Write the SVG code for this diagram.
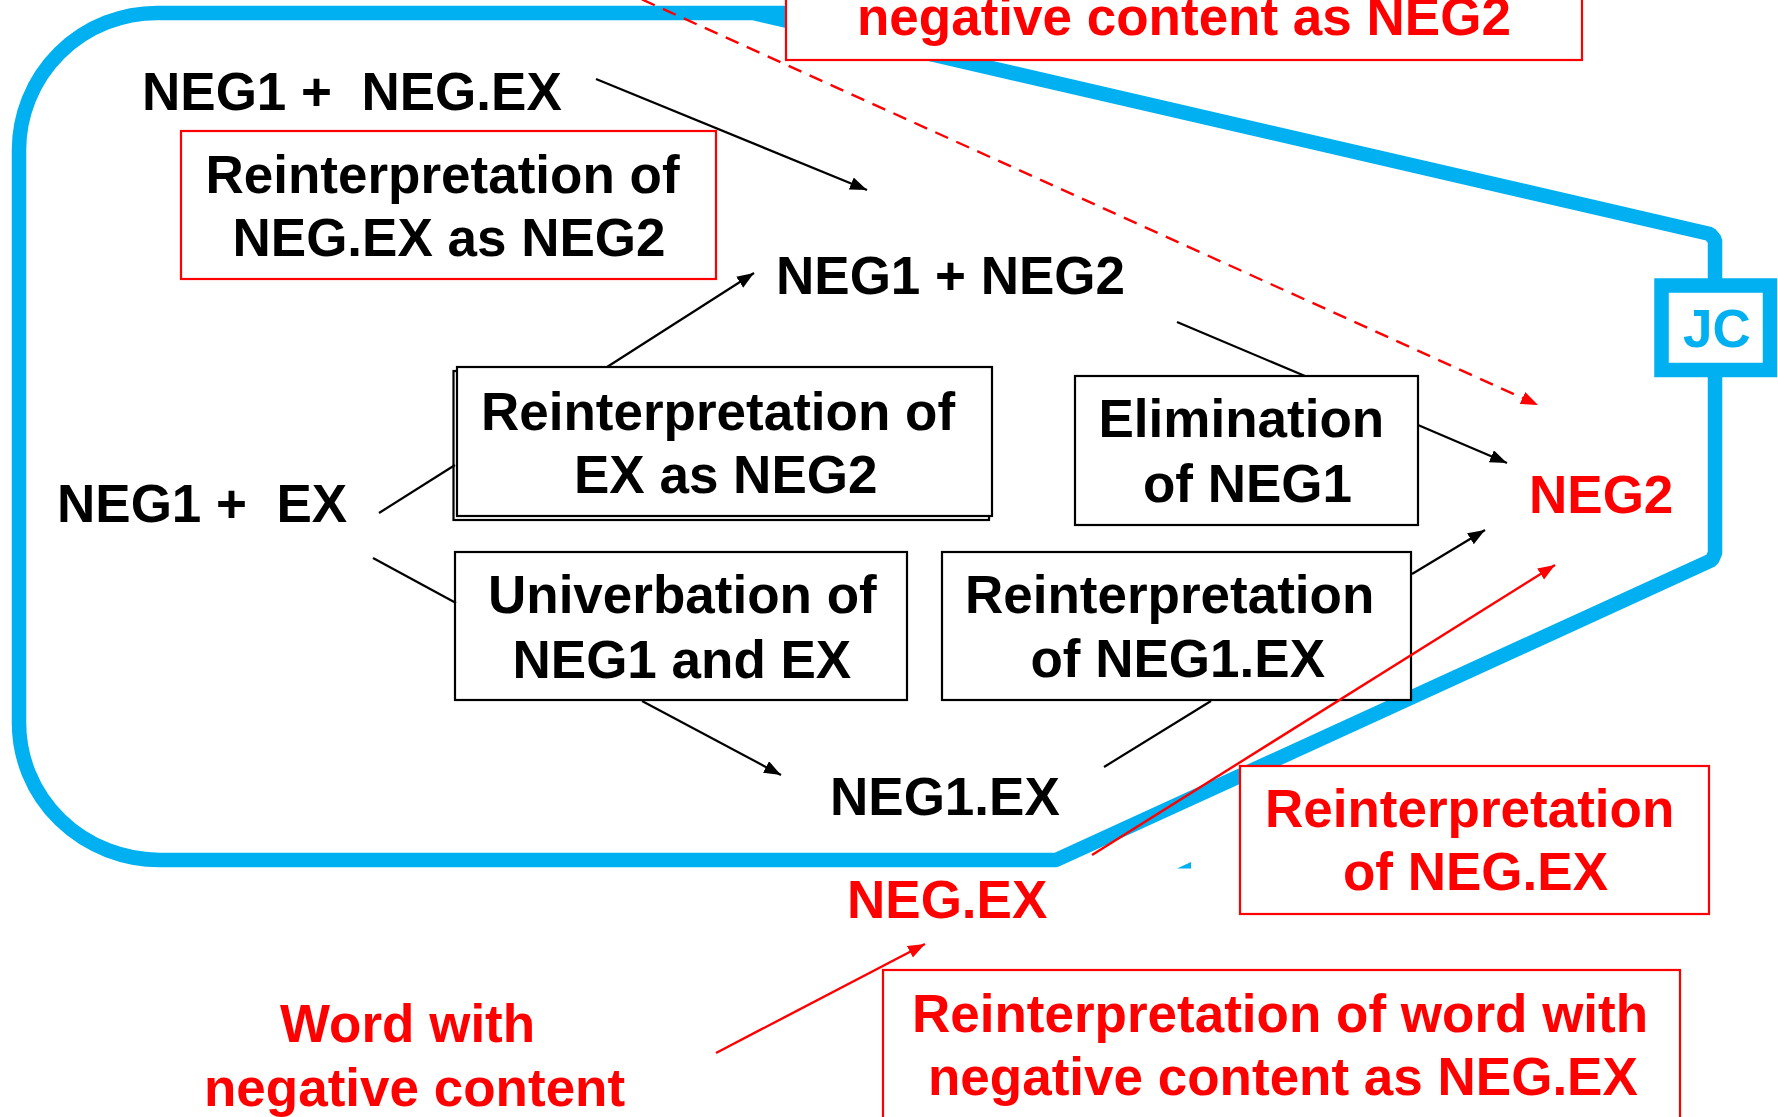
<svg xmlns="http://www.w3.org/2000/svg" width="1778" height="1117" viewBox="0 0 1778 1117">
<style>
text{font-family:"Liberation Sans",Arial,sans-serif;font-weight:bold;font-size:53px;white-space:pre}
.k{fill:#000}
.r{fill:#FF0000}
.b{fill:#00B0F0}
.bx{fill:#fff;stroke:#000;stroke-width:2.2}
.rbx{fill:#fff;stroke:#FF0000;stroke-width:2.2}
.ln{fill:none;stroke:#000;stroke-width:2.2}
.rl{fill:none;stroke:#FF0000;stroke-width:2.4}
</style>
<defs>
<marker id="ak" markerUnits="userSpaceOnUse" markerWidth="18" markerHeight="14" refX="17" refY="6.5" orient="auto"><path d="M0,0 L17,6.5 L0,13 z" fill="#000"/></marker>
<marker id="ar" markerUnits="userSpaceOnUse" markerWidth="18" markerHeight="14" refX="17" refY="6.5" orient="auto"><path d="M0,0 L17,6.5 L0,13 z" fill="#FF0000"/></marker>
</defs>
<rect width="1778" height="1117" fill="#fff"/>
<g id="boundary">
<path d="M19,150 A138,137 0 0 1 157,13 L753,13 L1710,234 L1715,240 L1715,553 L1712,560 L1056,860 L160,860 A141,137 0 0 1 19,723 Z M753,13 L800,13" fill="none" stroke="#00B0F0" stroke-width="14.5" stroke-linejoin="bevel"/>
<polygon points="1177,868.5 1191,862 1191,868.5" fill="#00B0F0"/>
</g>
<g id="jc">
<rect x="1661.5" y="285.5" width="108.5" height="84.5" fill="#fff" stroke="#00B0F0" stroke-width="14.5"/>
<text class="b" x="1683" y="347">JC</text>
</g>
<g id="top-box">
<rect class="rbx" x="786" y="-10" width="796" height="70"/>
<text class="r" x="857" y="35">negative content as NEG2</text>
</g>
<g id="neg1-negex">
<text class="k" x="142" y="110">NEG1 +  NEG.EX</text>
</g>
<g id="reint-negex-box">
<rect class="rbx" x="181" y="131" width="535" height="148"/>
<text class="k" x="205.5" y="193">Reinterpretation of</text>
<text class="k" x="232.5" y="256">NEG.EX as NEG2</text>
</g>
<g id="neg1-neg2">
<text class="k" x="776" y="294">NEG1 + NEG2</text>
</g>
<g id="reint-ex-box">
<rect class="bx" x="453.5" y="371" width="535.5" height="149"/>
<rect class="bx" x="457" y="367" width="535" height="149"/>
<text class="k" x="481" y="430">Reinterpretation of</text>
<text class="k" x="574" y="493">EX as NEG2</text>
</g>
<g id="neg1-ex">
<text class="k" x="57" y="522">NEG1 +  EX</text>
</g>
<g id="elimination-box">
<rect class="bx" x="1075" y="376" width="343" height="149" stroke-width="2.6"/>
<text class="k" x="1098.5" y="437">Elimination</text>
<text class="k" x="1143" y="502">of NEG1</text>
</g>
<g id="univerbation-box">
<rect class="bx" x="455" y="552" width="452" height="148"/>
<text class="k" x="488" y="613">Univerbation of</text>
<text class="k" x="512.5" y="678">NEG1 and EX</text>
</g>
<g id="reint-neg1ex-box">
<rect class="bx" x="942" y="552" width="469" height="148"/>
<text class="k" x="965" y="613">Reinterpretation</text>
<text class="k" x="1030.5" y="677">of NEG1.EX</text>
</g>
<g id="neg1ex">
<text class="k" x="830" y="815">NEG1.EX</text>
</g>
<g id="neg2">
<text class="r" x="1529" y="513">NEG2</text>
</g>
<g id="negex">
<text class="r" x="847" y="918">NEG.EX</text>
</g>
<g id="reint-negex-red-box">
<rect class="rbx" x="1240" y="766" width="469" height="148"/>
<text class="r" x="1265" y="827">Reinterpretation</text>
<text class="r" x="1343" y="890">of NEG.EX</text>
</g>
<g id="reint-word-box">
<rect class="rbx" x="883" y="970" width="797" height="160"/>
<text class="r" x="912" y="1032">Reinterpretation of word with</text>
<text class="r" x="928" y="1095">negative content as NEG.EX</text>
</g>
<g id="word-negative">
<text class="r" x="280" y="1042">Word with</text>
<text class="r" x="204" y="1106">negative content</text>
</g>
<g id="connectors">
<line class="ln" x1="596" y1="79" x2="867" y2="190" marker-end="url(#ak)"/>
<line class="ln" x1="607" y1="367" x2="754" y2="273" marker-end="url(#ak)"/>
<line class="ln" x1="379" y1="513" x2="455" y2="465"/>
<line class="ln" x1="373" y1="558" x2="456" y2="603"/>
<line class="ln" x1="642" y1="701" x2="781" y2="775" marker-end="url(#ak)"/>
<line class="ln" x1="1104" y1="767" x2="1211" y2="701"/>
<line class="ln" x1="1412" y1="574" x2="1485" y2="530" marker-end="url(#ak)"/>
<line class="ln" x1="1177" y1="322" x2="1305" y2="376"/>
<line class="ln" x1="1418" y1="425" x2="1507" y2="463" marker-end="url(#ak)"/>
<line class="rl" x1="621" y1="-10" x2="1538" y2="405" stroke-dasharray="14 9" marker-end="url(#ar)"/>
<line class="rl" x1="1092" y1="855" x2="1555" y2="565" marker-end="url(#ar)"/>
<line class="rl" x1="716" y1="1053" x2="925" y2="944" marker-end="url(#ar)"/>
</g>
</svg>
